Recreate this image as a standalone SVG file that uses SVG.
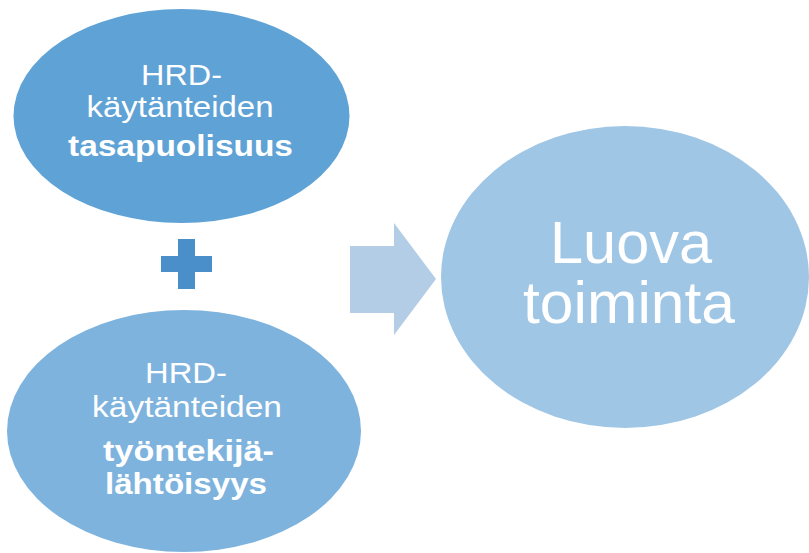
<svg xmlns="http://www.w3.org/2000/svg" width="809" height="553" viewBox="0 0 809 553">
<style>
.t{font-family:"Liberation Sans",Arial,sans-serif;fill:#ffffff;text-anchor:middle}
.n{font-size:29px}
.b{font-size:29px;font-weight:bold}
.big{font-size:60px}
</style>
<rect width="809" height="553" fill="#ffffff"/>
<g id="node-top">
<ellipse cx="181.5" cy="116" rx="168" ry="107" fill="#5fa2d5"/>
<text class="t n" x="181.5" y="85" textLength="81" lengthAdjust="spacingAndGlyphs">HRD-</text>
<text class="t n" x="180" y="117" textLength="187" lengthAdjust="spacingAndGlyphs">käytänteiden</text>
<text class="t b" x="180.5" y="156" textLength="225" lengthAdjust="spacingAndGlyphs">tasapuolisuus</text>
</g>
<g id="node-bottom">
<ellipse cx="184" cy="431" rx="177" ry="121" fill="#7eb3de"/>
<text class="t n" x="186" y="383" textLength="82" lengthAdjust="spacingAndGlyphs">HRD-</text>
<text class="t n" x="187" y="417" textLength="190" lengthAdjust="spacingAndGlyphs">käytänteiden</text>
<text class="t b" x="188.5" y="461" textLength="171" lengthAdjust="spacingAndGlyphs">työntekijä-</text>
<text class="t b" x="186" y="494" textLength="162" lengthAdjust="spacingAndGlyphs">lähtöisyys</text>
</g>
<g id="node-plus">
<path d="M178 239 H195 V256 H212 V272 H195 V289 H178 V272 H161 V256 H178 Z" fill="#4a8fc9"/>
</g>
<g id="connectors">
<path d="M350 246 H394 V223 L436 279 L394 335 V313 H350 Z" fill="#b4cde6"/>
</g>
<g id="node-result">
<ellipse cx="625" cy="277" rx="184" ry="151" fill="#a0c6e5"/>
<text class="t big" x="631" y="263" textLength="162" lengthAdjust="spacingAndGlyphs">Luova</text>
<text class="t big" x="629" y="323" textLength="212" lengthAdjust="spacingAndGlyphs">toiminta</text>
</g>
</svg>
